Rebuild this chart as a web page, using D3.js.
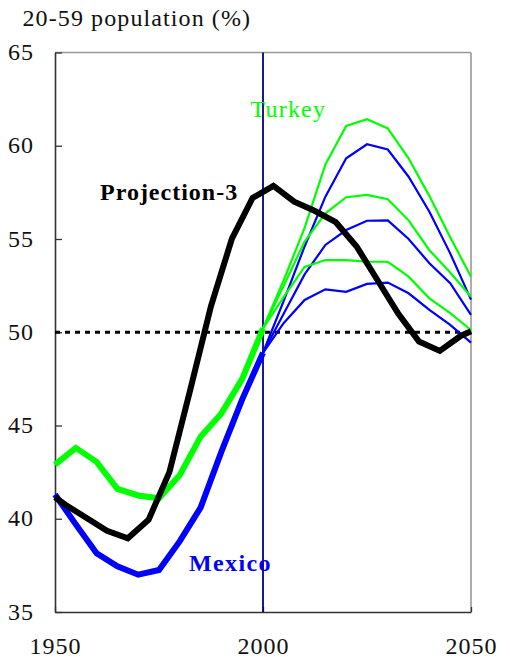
<!DOCTYPE html>
<html>
<head>
<meta charset="utf-8">
<script src="https://cdn.jsdelivr.net/npm/d3@7"></script>
<style>
  html, body { margin: 0; padding: 0; background: #fff; }
  svg { display: block; }
  text { font-family: "Liberation Serif", "Times New Roman", serif; }
</style>
</head>
<body>
<svg id="chart" width="510" height="657"></svg>
<script>
// ---- data ----
const yTicks = [35, 40, 45, 50, 55, 60, 65];
const xTicks = [1950, 2000, 2050];

const histYears = [1950, 1955, 1960, 1965, 1970, 1975, 1980, 1985, 1990, 1995, 2000];
const turkeyHist = [42.9, 43.8, 43.05, 41.6, 41.25, 41.1, 42.35, 44.4, 45.65, 47.5, 50.2];
const mexicoHist = [41.3, 39.7, 38.15, 37.45, 37.0, 37.25, 38.8, 40.6, 43.6, 46.4, 48.9];

const projYears = [2000, 2005, 2010, 2015, 2020, 2025, 2030, 2035, 2040, 2045, 2050];
const turkeyHigh = [50.2, 52.8, 55.6, 59.0, 61.06, 61.42, 60.93, 59.33, 57.3, 55.1, 52.98];
const turkeyMid  = [50.2, 52.5, 54.86, 56.38, 57.24, 57.36, 57.13, 56.0, 54.4, 53.2, 51.9];
const turkeyLow  = [50.2, 51.9, 53.5, 53.87, 53.87, 53.78, 53.78, 52.98, 51.82, 51.02, 50.12];
const mexicoHigh = [48.9, 51.7, 54.6, 57.27, 59.33, 60.08, 59.8, 58.34, 56.46, 54.23, 51.75];
const mexicoMid  = [48.9, 51.0, 53.1, 54.68, 55.48, 55.98, 56.0, 55.0, 53.7, 52.63, 50.93];
const mexicoLow  = [48.9, 50.5, 51.73, 52.3, 52.17, 52.59, 52.66, 52.09, 51.2, 50.39, 49.44];

const proj3Years = [1950, 1952.5, 1957.5, 1962.5, 1967.5, 1972.5, 1977.5, 1982.5, 1987.5, 1992.5,
                    1997.5, 2002.5, 2007.5, 2012.5, 2017.5, 2022.5, 2027.5, 2032.5, 2037.5, 2042.5, 2047.5, 2050];
const proj3 = [41.15, 40.75, 40.05, 39.35, 38.95, 39.95, 42.5, 46.9, 51.4, 55.0,
               57.2, 57.85, 57.0, 56.5, 55.9, 54.6, 52.8, 51.0, 49.5, 49.0, 49.8, 50.05];

const baseline = 50;
const divideYear = 2000;

// ---- layout ----
const L = 55, R = 471, T = 52.5, B = 612;
const svg = d3.select("#chart");
const x = d3.scaleLinear().domain([1950, 2050]).range([L, R]);
const y = d3.scaleLinear().domain([35, 65]).range([B, T]);

const GREEN = "#00ff00", BLUE = "#0000ff", BLACK = "#000000";

// title
svg.append("text")
  .attr("x", 22.5).attr("y", 26)
  .attr("font-size", 24).attr("letter-spacing", 1.1)
  .attr("fill", "#111")
  .text("20-59 population (%)");

// frame: top & right grey, left & bottom dark
svg.append("line").attr("x1", L).attr("x2", R).attr("y1", T).attr("y2", T)
  .attr("stroke", "#999").attr("stroke-width", 1.6);
svg.append("line").attr("x1", R).attr("x2", R).attr("y1", T).attr("y2", B)
  .attr("stroke", "#999").attr("stroke-width", 1.6);

// axes
const yAxis = d3.axisLeft(y).tickValues(yTicks).tickSizeInner(-7).tickSizeOuter(0).tickPadding(21)
  .tickFormat(d3.format("d"));
const gy = svg.append("g").attr("transform", `translate(${L},0)`).call(yAxis);
gy.select(".domain").attr("stroke", "#333").attr("stroke-width", 1.6);
gy.selectAll(".tick line").attr("stroke", "#333").attr("stroke-width", 1.3);
gy.selectAll(".tick text").attr("font-size", 24).attr("letter-spacing", 1)
  .attr("font-family", "Liberation Serif, serif").attr("fill", "#111").attr("dy", "0.3em");

const xAxis = d3.axisBottom(x).tickValues(xTicks).tickSizeInner(-5).tickSizeOuter(0)
  .tickFormat(d3.format("d"));
const gx = svg.append("g").attr("transform", `translate(0,${B})`).call(xAxis);
gx.select(".domain").attr("stroke", "#333").attr("stroke-width", 1.6);
gx.selectAll(".tick line").attr("stroke", "#333").attr("stroke-width", 1.3);
gx.selectAll(".tick text").attr("font-size", 24).attr("letter-spacing", 1)
  .attr("font-family", "Liberation Serif, serif").attr("fill", "#111")
  .attr("y", 41.5).attr("dy", 0);

// 2000 divider
svg.append("line")
  .attr("x1", x(divideYear)).attr("x2", x(divideYear)).attr("y1", T).attr("y2", B)
  .attr("stroke", "#000080").attr("stroke-width", 1.8);

// 50% dashed reference
svg.append("line")
  .attr("x1", L).attr("x2", R).attr("y1", y(baseline)).attr("y2", y(baseline))
  .attr("stroke", "#000").attr("stroke-width", 3).attr("stroke-dasharray", "5,5");

const line = d3.line().x(d => x(d[0])).y(d => y(d[1]));
function draw(years, vals, color, width) {
  svg.append("path")
    .datum(years.map((yr, i) => [yr, vals[i]]))
    .attr("d", line)
    .attr("fill", "none")
    .attr("stroke", color)
    .attr("stroke-width", width)
    .attr("stroke-linejoin", "miter");
}

// projections (thin)
draw(projYears, mexicoLow, BLUE, 2.2);
draw(projYears, mexicoMid, BLUE, 2.2);
draw(projYears, mexicoHigh, BLUE, 2.2);
draw(projYears, turkeyLow, GREEN, 2.2);
draw(projYears, turkeyMid, GREEN, 2.2);
draw(projYears, turkeyHigh, GREEN, 2.2);

// history (thick)
draw(histYears, mexicoHist, BLUE, 6);
draw(histYears, turkeyHist, GREEN, 6);
draw(proj3Years, proj3, BLACK, 6);

// labels
svg.append("text").attr("x", 250.5).attr("y", 117)
  .attr("font-size", 24).attr("letter-spacing", 1.2).attr("fill", GREEN)
  .text("Turkey");
svg.append("text").attr("x", 100).attr("y", 200)
  .attr("font-size", 24).attr("font-weight", "bold").attr("letter-spacing", 1)
  .attr("fill", BLACK).text("Projection-3");
svg.append("text").attr("x", 189).attr("y", 571)
  .attr("font-size", 24).attr("font-weight", "bold").attr("letter-spacing", 1.4)
  .attr("fill", BLUE).text("Mexico");
</script>
</body>
</html>
